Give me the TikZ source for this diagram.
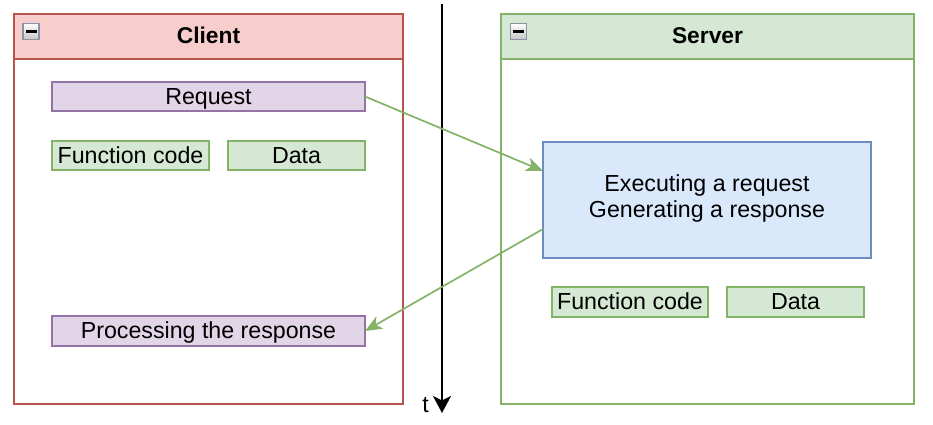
\documentclass[tikz,border=0pt]{standalone}
\usepackage{fontspec}
\setmainfont{Liberation Sans}
\usetikzlibrary{arrows.meta,calc}
\definecolor{redS}{HTML}{B85450}
\definecolor{redF}{HTML}{F8CECC}
\definecolor{grnS}{HTML}{82B366}
\definecolor{grnF}{HTML}{D5E8D4}
\definecolor{purS}{HTML}{9673A6}
\definecolor{purF}{HTML}{E1D5E7}
\definecolor{bluS}{HTML}{6C8EBF}
\definecolor{bluF}{HTML}{DAE8FC}
\definecolor{icoS}{HTML}{8A94A6}
\tikzset{
  box/.style={draw, line width=1.6pt, inner sep=0pt, outer sep=0pt, align=center, text height=16.3pt, text depth=0.4pt},
  purplebox/.style={box, draw=purS, fill=purF},
  greenbox/.style={box, draw=grnS, fill=grnF},
  bluebox/.style={box, draw=bluS, fill=bluF, text height=34pt, text depth=0pt},
  redframe/.style={box, draw=redS, fill=white},
  greenframe/.style={box, draw=grnS, fill=white},
  redhead/.style={box, draw=redS, fill=redF, font=\fontsize{22.8}{26}\selectfont\bfseries, text depth=2.5pt},
  greenhead/.style={box, draw=grnS, fill=grnF, font=\fontsize{22.8}{26}\selectfont\bfseries, text depth=2.5pt},
  minusicon/.style={draw=icoS, line width=1.2pt, top color=white, bottom color=gray!45, minimum width=16pt, minimum height=16pt, inner sep=0pt},
  minusbar/.style={line width=2.8pt, black},
  garrow/.style={draw=grnS, line width=1.7pt, -{Stealth[length=17pt,width=14pt,inset=4.5pt]}, color=grnS},
  tarrow/.style={draw=black, line width=2pt, -{Stealth[length=17pt,width=18pt,inset=4.5pt]}}
}
\begin{document}
\begin{tikzpicture}[x=1pt,y=-1pt, font=\fontsize{23.2}{25.7}\selectfont]
\useasboundingbox (0,0) rectangle (933,424);
% containers
\node[redframe, minimum width=389pt, minimum height=390pt] (client) at (208.5,209) {};
\node[redhead, minimum width=389pt, minimum height=45pt] (clienthead) at (208.5,36.5) {Client};
\node[minusicon] (cicon) at (31,31.5) {};
\draw[minusbar] ([xshift=-5.5pt]cicon.center) -- ([xshift=5.5pt]cicon.center);

\node[greenframe, minimum width=413pt, minimum height=390pt] (server) at (707.5,209) {};
\node[greenhead, minimum width=413pt, minimum height=45pt] (serverhead) at (707.5,36.5) {Server};
\node[minusicon] (sicon) at (518.5,31.5) {};
\draw[minusbar] ([xshift=-5.5pt]sicon.center) -- ([xshift=5.5pt]sicon.center);

% client content
\node[purplebox, minimum width=313pt, minimum height=29pt] (req) at (208.5,96.5) {Request};
\node[greenbox, minimum width=157pt, minimum height=29pt] (cfunc) at (130.5,155.5) {Function code};
\node[greenbox, minimum width=137pt, minimum height=29pt] (cdata) at (296.5,155.5) {Data};
\node[purplebox, minimum width=313pt, minimum height=30pt] (proc) at (208.5,331) {Processing the response};

% server content
\node[bluebox, minimum width=328pt, minimum height=116pt] (exec) at (707,200) {Executing a request\\Generating a response};
\node[greenbox, minimum width=156pt, minimum height=30pt] (sfunc) at (630,302) {Function code};
\node[greenbox, minimum width=137pt, minimum height=30pt] (sdata) at (795.5,302) {Data};

% time axis
\coordinate (ttop) at (442,4);
\coordinate (tbot) at (442,413);
\draw[tarrow] (ttop) -- (tbot);
\node[inner sep=0pt, text height=14pt, text depth=0pt] (tlabel) at (425.5,405.5) {t};

% messages
\draw[garrow] (req.east) -- ($(exec.north west)!0.25!(exec.south west)$);
\draw[garrow] ($(exec.north west)!0.75!(exec.south west)$) -- (proc.east);
\end{tikzpicture}
\end{document}
